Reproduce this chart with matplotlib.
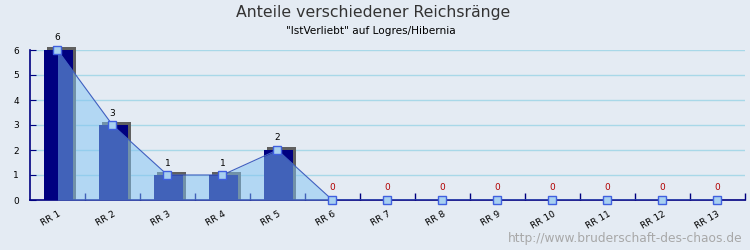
import matplotlib.pyplot as plt
from matplotlib.patches import Rectangle

categories = ['RR 1', 'RR 2', 'RR 3', 'RR 4', 'RR 5', 'RR 6', 'RR 7',
              'RR 8', 'RR 9', 'RR 10', 'RR 11', 'RR 12', 'RR 13']
values = [6, 3, 1, 1, 2, 0, 0, 0, 0, 0, 0, 0, 0]

bg = '#e4ebf3'
fig = plt.figure(figsize=(7.5, 2.5), dpi=100, facecolor=bg)
ax = fig.add_axes([0.04, 0.2, 0.953, 0.6], facecolor=bg)

x = list(range(len(categories)))
ax.set_xlim(-0.5, len(categories) - 0.5)
ax.set_ylim(0, 6)

# grid
for yv in range(1, 7):
    ax.axhline(yv, color='#a8d8e8', lw=1, zorder=1)

# bars with shadow
left_off = -0.245
width = 0.53
for xi, v in zip(x, values):
    if v <= 0:
        continue
    ax.add_patch(Rectangle((xi + left_off + 0.055, 0), width, v + 0.12,
                           facecolor='#606060', edgecolor='none', zorder=2, clip_on=False))
    ax.add_patch(Rectangle((xi + left_off, 0), width, v,
                           facecolor='#000080', edgecolor='none', zorder=3, clip_on=False))

# area + line
ax.fill_between(x, values, 0, color='#82c4f3', alpha=0.5, lw=0, zorder=4)
ax.plot(x, values, color='#4060c0', lw=0.8, zorder=5)
ax.plot(x, values, ls='none', marker='s', ms=5.5, mfc='#a8d0f0', mec='#4060e0',
        mew=1, zorder=6, clip_on=False)

# value labels
for xi, v in zip(x, values):
    ax.text(xi, v + 0.3, str(v), ha='center', va='bottom', fontsize=6.5,
            color='black' if v > 0 else '#b00000', zorder=7)

# axes styling
for s in ['top', 'right']:
    ax.spines[s].set_visible(False)
ax.spines['left'].set_color('#000080')
ax.spines['bottom'].set_color('#000080')
ax.spines['bottom'].set_linewidth(1.2)
ax.spines['left'].set_linewidth(1.2)

ax.set_yticks(range(0, 7))
ax.tick_params(axis='y', direction='in', length=4, color='#000080',
               labelsize=6.5, pad=8)
ax.set_xticks([i + 0.5 for i in x])
ax.set_xticklabels([])
ax.tick_params(axis='x', direction='in', length=5, color='#000080', width=1)
ax.set_xticks(x, minor=True)
ax.set_xticklabels(categories, minor=True, rotation=30, ha='right',
                   fontsize=6.5, rotation_mode='anchor')
ax.tick_params(axis='x', which='minor', length=0, pad=7)

fig.text(0.497, 0.952, 'Anteile verschiedener Reichsränge', ha='center',
         va='center', fontsize=11.3, color='#333333')
fig.text(0.495, 0.878, '"IstVerliebt" auf Logres/Hibernia', ha='center',
         va='center', fontsize=7.6, color='black')
fig.text(0.99, 0.045, 'http://www.bruderschaft-des-chaos.de', ha='right',
         va='center', fontsize=8.8, color='#a8a8a8')

fig.savefig('out.png', dpi=100, facecolor=bg)
